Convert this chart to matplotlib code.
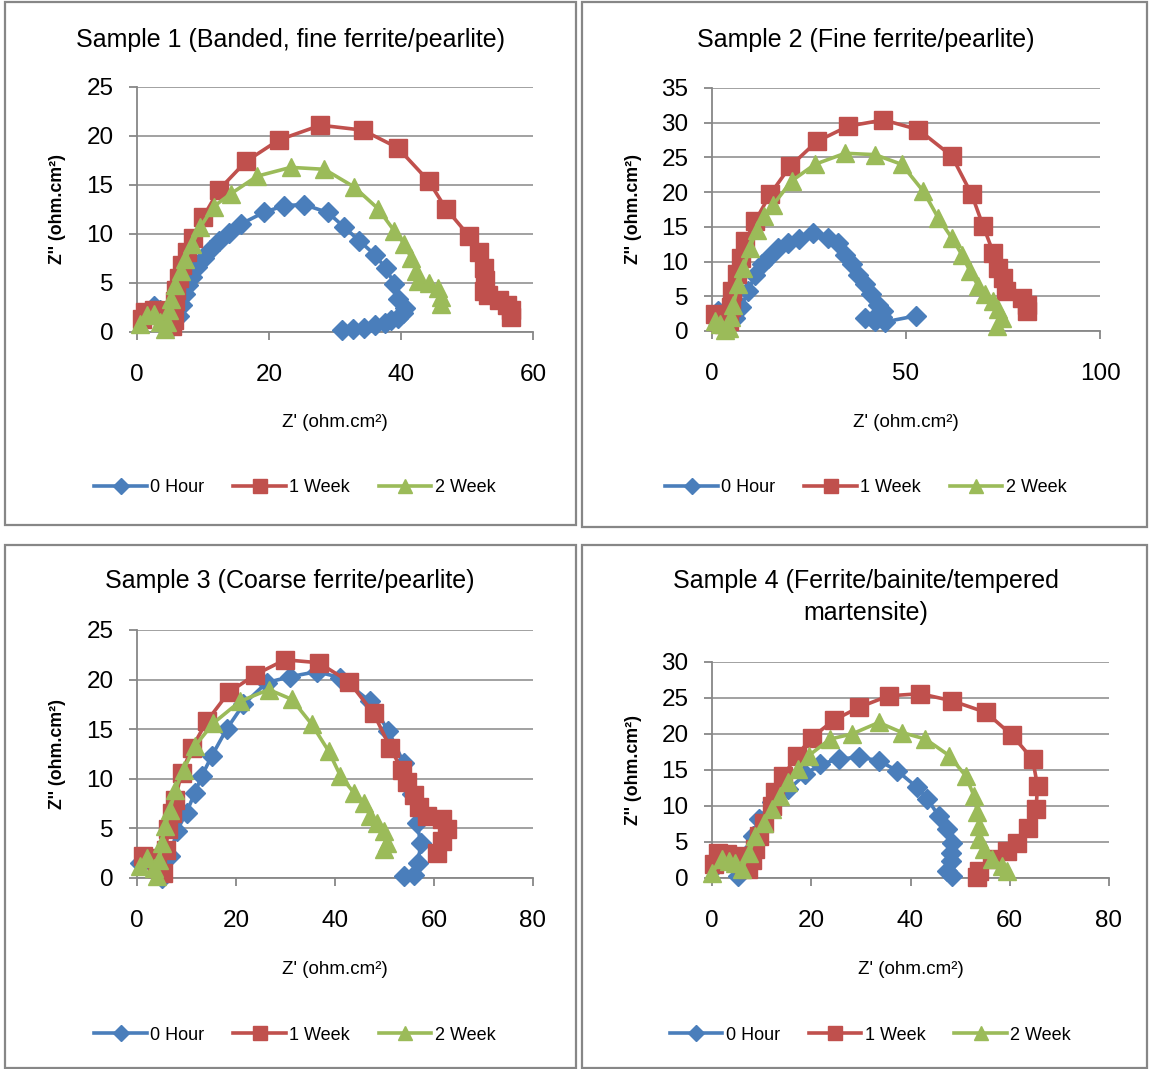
import matplotlib
matplotlib.use("Agg")
import matplotlib.pyplot as plt
from matplotlib.patches import Rectangle

W, H = 1149, 1069

# ---- data ----
legend_labels = ["0 Hour", "1 Week", "2 Week"]
titles = ["Sample 1 (Banded, fine ferrite/pearlite)",
          "Sample 2 (Fine ferrite/pearlite)",
          "Sample 3 (Coarse ferrite/pearlite)",
          "Sample 4 (Ferrite/bainite/tempered\nmartensite)"]

s1_hour0_x = [1.5, 2.5, 3.5, 4.5, 5.5, 6.3, 6.8, 7.3, 7.8, 8.4, 9.1, 10.1, 11.1, 12.4, 13.9, 15.7, 19.2, 22.3,
              25.3, 28.9, 31.4, 33.7, 36.0, 37.7, 39.0, 39.5, 40.6, 40.3, 39.5, 38.5, 37.5, 36.0, 34.4, 32.7, 31.1]
s1_hour0_y = [1.8, 2.7, 2.2, 1.2, 0.6, 1.6, 2.8, 3.9, 4.8, 5.6, 6.6, 7.6, 8.4, 9.3, 10.1, 11.0, 12.2, 12.9,
              13.0, 12.2, 10.7, 9.3, 7.9, 6.5, 4.9, 3.4, 2.4, 1.9, 1.4, 1.2, 0.9, 0.7, 0.4, 0.3, 0.2]
s1_week1_x = [0.8, 1.2, 2.5, 4.0, 5.3, 5.6, 5.5, 5.7, 5.9, 6.3, 6.8, 7.5, 8.5, 10.0, 12.4, 16.5, 21.5, 27.8,
              34.2, 39.5, 44.2, 46.8, 50.3, 51.8, 52.6, 52.8, 52.6, 53.2, 54.8, 56.0, 56.6, 56.6]
s1_week1_y = [1.3, 2.0, 2.2, 1.5, 0.6, 1.2, 2.2, 3.2, 4.3, 5.5, 6.8, 8.2, 9.6, 11.7, 14.5, 17.4, 19.6, 21.1,
              20.6, 18.8, 15.4, 12.6, 9.8, 8.2, 6.5, 5.3, 4.2, 3.8, 3.3, 2.8, 2.2, 1.5]
s1_week2_x = [0.5, 1.5, 2.5, 3.5, 4.3, 4.6, 4.8, 5.1, 5.8, 6.6, 7.3, 8.4, 9.6, 11.6, 14.2, 18.2, 23.3, 28.4,
              32.9, 36.5, 39.0, 40.5, 41.5, 42.3, 42.6, 44.3, 45.6, 46.1, 46.1]
s1_week2_y = [0.8, 1.7, 1.8, 1.0, 0.3, 1.0, 2.2, 3.4, 4.8, 6.2, 7.4, 9.0, 10.7, 12.8, 14.1, 15.9, 16.8, 16.6,
              14.8, 12.6, 10.3, 9.0, 7.6, 6.2, 5.2, 5.0, 4.5, 3.6, 2.9]

s2_hour0_x = [1.6, 3.0, 4.5, 5.9, 7.5, 9.4, 11.1, 12.8, 14.5, 17.1, 19.7, 22.3, 26.1, 30.0, 32.6, 34.3, 36.0,
              37.7, 39.4, 41.1, 42.9, 44.2, 43.7, 41.5, 39.5, 42.0, 44.5, 52.7]
s2_hour0_y = [2.9, 2.4, 2.0, 1.9, 3.5, 5.8, 8.1, 9.6, 10.5, 12.0, 12.7, 13.2, 14.1, 13.4, 12.7, 11.0, 9.6,
              8.1, 6.7, 5.3, 3.8, 2.9, 2.0, 1.8, 1.9, 1.4, 1.3, 2.2]
s2_week1_x = [0.8, 1.5, 3.0, 4.5, 4.9, 5.1, 6.4, 7.6, 8.5, 11.1, 15.0, 20.1, 27.0, 35.1, 44.2, 53.2, 61.8,
              66.9, 69.9, 72.5, 73.8, 75.1, 75.9, 79.8, 81.1, 81.1]
s2_week1_y = [2.4, 1.5, 1.0, 1.5, 3.5, 5.8, 8.2, 10.5, 12.9, 15.8, 19.7, 23.7, 27.3, 29.5, 30.4, 29.0, 25.2,
              19.7, 15.1, 11.3, 9.1, 7.7, 5.8, 4.8, 3.8, 2.9]
s2_week2_x = [0.8, 2.0, 3.4, 4.5, 5.0, 5.5, 6.8, 8.1, 9.8, 11.5, 13.5, 15.8, 20.5, 26.5, 34.3, 42.0, 48.9,
              54.5, 58.3, 61.8, 64.4, 66.5, 68.6, 70.4, 72.5, 73.8, 74.7, 73.4]
s2_week2_y = [1.4, 1.0, 0.2, 0.5, 2.0, 3.8, 6.7, 9.1, 12.0, 14.6, 16.5, 18.2, 21.6, 24.0, 25.6, 25.4, 24.0,
              20.1, 16.3, 13.4, 11.0, 8.6, 6.5, 5.3, 4.3, 3.1, 1.9, 0.7]

s3_hour0_x = [0.6, 2.5, 4.0, 5.0, 6.7, 8.0, 10.0, 11.7, 13.1, 15.1, 18.1, 21.5, 26.2, 31.0, 36.3, 41.1, 47.1,
              50.8, 53.9, 55.5, 56.6, 57.3, 56.8, 55.9, 53.9]
s3_hour0_y = [1.5, 1.8, 1.0, 0.0, 2.2, 4.7, 6.6, 8.6, 10.3, 12.3, 15.0, 17.5, 19.7, 20.3, 20.8, 20.2, 17.8,
              14.8, 11.6, 8.5, 5.5, 3.5, 1.5, 0.3, 0.2]
s3_week1_x = [1.3, 2.5, 4.0, 5.3, 5.8, 6.3, 7.0, 7.7, 9.0, 11.1, 14.1, 18.5, 23.9, 29.9, 36.7, 42.8, 47.8,
              51.2, 53.5, 54.6, 55.9, 56.9, 58.6, 61.6, 62.6, 61.6, 60.6]
s3_week1_y = [2.2, 2.0, 1.0, 0.5, 2.8, 4.9, 6.6, 7.9, 10.6, 13.1, 15.8, 18.7, 20.5, 22.0, 21.7, 19.8, 16.6,
              13.1, 10.9, 9.7, 8.4, 7.2, 6.2, 5.9, 4.9, 3.7, 2.5]
s3_week2_x = [0.6, 2.0, 3.5, 4.0, 4.5, 5.0, 5.7, 6.7, 7.7, 9.4, 11.7, 15.4, 20.8, 26.6, 31.3, 35.3, 38.7,
              41.1, 43.8, 45.8, 47.1, 48.5, 49.8, 50.5, 49.8]
s3_week2_y = [1.2, 2.0, 1.0, 0.2, 1.8, 3.5, 5.2, 6.9, 8.9, 10.9, 13.3, 15.6, 17.8, 19.0, 18.0, 15.5, 12.8,
              10.3, 8.6, 7.6, 6.2, 5.5, 4.7, 3.5, 2.9]

s4_hour0_x = [1.3, 2.6, 4.0, 5.3, 6.3, 7.2, 8.2, 9.4, 12.1, 15.4, 18.8, 21.8, 25.5, 29.6, 33.6, 37.3, 41.3,
              43.4, 45.7, 47.4, 48.4, 48.1, 48.1, 47.4, 48.4]
s4_hour0_y = [2.0, 3.2, 2.4, 0.3, 1.5, 3.5, 5.8, 8.2, 10.5, 12.3, 14.4, 15.8, 16.5, 16.8, 16.3, 14.9, 12.6,
              11.0, 8.6, 6.8, 4.9, 3.5, 2.4, 1.0, 0.3]
s4_week1_x = [0.5, 1.3, 3.0, 5.3, 6.5, 7.3, 8.0, 8.7, 9.4, 10.4, 12.1, 12.7, 14.4, 17.1, 20.1, 24.5, 29.6,
              35.6, 42.0, 48.4, 55.2, 60.5, 64.6, 65.6, 65.3, 63.6, 61.5, 59.5, 56.5, 53.8, 53.5]
s4_week1_y = [2.0, 3.5, 3.4, 3.1, 1.8, 1.2, 2.5, 4.0, 5.8, 7.7, 10.0, 11.9, 14.2, 17.0, 19.5, 21.9, 23.7,
              25.3, 25.6, 24.6, 23.0, 19.8, 16.5, 12.8, 9.6, 7.0, 4.9, 3.8, 2.6, 1.0, 0.1]
s4_week2_x = [0.0, 2.0, 3.5, 4.6, 6.0, 7.5, 8.7, 10.4, 12.0, 13.7, 15.4, 17.4, 19.5, 23.8, 28.2, 33.6, 38.3,
              43.0, 47.8, 51.1, 52.8, 53.5, 53.8, 53.8, 54.8, 56.5, 58.5, 59.5]
s4_week2_y = [0.7, 2.6, 2.4, 2.1, 1.2, 3.5, 5.8, 7.7, 9.6, 11.4, 13.3, 15.1, 17.0, 19.3, 20.0, 21.6, 20.2,
              19.3, 17.0, 14.2, 11.4, 9.1, 7.2, 5.4, 4.0, 2.6, 1.7, 1.0]

# axis limits / ticks per panel
x_max = [60, 100, 80, 80]
x_step = [20, 50, 20, 20]
y_max = [25, 35, 25, 30]
y_step = [5, 5, 5, 5]

series = [
    [(s1_hour0_x, s1_hour0_y), (s1_week1_x, s1_week1_y), (s1_week2_x, s1_week2_y)],
    [(s2_hour0_x, s2_hour0_y), (s2_week1_x, s2_week1_y), (s2_week2_x, s2_week2_y)],
    [(s3_hour0_x, s3_hour0_y), (s3_week1_x, s3_week1_y), (s3_week2_x, s3_week2_y)],
    [(s4_hour0_x, s4_hour0_y), (s4_week1_x, s4_week1_y), (s4_week2_x, s4_week2_y)],
]

# ---- styling ----
colors = ["#4A7EBB", "#C0504D", "#9BBB59"]
markers = ["D", "s", "^"]
msizes = [10.5, 12.5, 13]
GRAY = "#878787"
FONT = ["Liberation Sans", "DejaVu Sans"]

# pixel boxes: (left, top, right, bottom) of plot area; panel frame
axes_px = [(137, 87, 533, 332), (712, 88, 1100, 331), (137, 630, 533, 878), (712, 662, 1109, 878)]
frames_px = [(5, 2, 576, 525), (582, 2, 1147, 527), (5, 545, 576, 1068), (582, 545, 1147, 1068)]
title_px = [(290, 40), (866, 40), (290, 581), (866, 597)]
xlabel_y = [423, 423, 969, 969]
legend_y = [488, 488, 1035, 1035]


def fx(x):
    return x / W


def fy(y):
    return 1 - y / H


fig = plt.figure(figsize=(W / 100, H / 100), dpi=100)

for i in range(4):
    l, t, r, b = frames_px[i]
    fig.patches.append(Rectangle((fx(l), fy(b)), fx(r - l), (b - t) / H, transform=fig.transFigure,
                                 fill=False, edgecolor=GRAY, linewidth=1.6))

    l, t, r, b = axes_px[i]
    ax = fig.add_axes([fx(l), fy(b), fx(r - l), (b - t) / H])
    handles = []
    for k, (xs, ys) in enumerate(series[i]):
        h, = ax.plot(xs, ys, color=colors[k], marker=markers[k], markersize=msizes[k],
                     linewidth=2.6, label=legend_labels[k], clip_on=False, zorder=3 + k)
        handles.append(h)

    ax.set_xlim(0, x_max[i])
    ax.set_ylim(0, y_max[i])
    ax.set_xticks(range(0, x_max[i] + 1, x_step[i]))
    ax.set_yticks(range(0, y_max[i] + 1, y_step[i]))
    for s in ["top", "right"]:
        ax.spines[s].set_visible(False)
    for s in ["left", "bottom"]:
        ax.spines[s].set_color(GRAY)
        ax.spines[s].set_linewidth(1.3)
    ax.grid(axis="y", color=GRAY, linewidth=1.1)
    ax.set_axisbelow(True)
    ax.tick_params(axis="both", direction="out", length=6, width=1.3, color=GRAY, labelsize=17.5)
    ax.tick_params(axis="x", pad=17)
    ax.tick_params(axis="y", pad=11)
    for lab in ax.get_xticklabels() + ax.get_yticklabels():
        lab.set_family(FONT)

    cx = (l + r) / 2
    fig.text(fx(title_px[i][0]), fy(title_px[i][1]), titles[i], ha="center", va="center",
             fontsize=18, family=FONT, linespacing=1.4)
    fig.text(fx(cx), fy(xlabel_y[i]), "Z' (ohm.cm²)", ha="center", va="center",
             fontsize=13.5, family=FONT)
    fig.text(fx(l - 79), fy((t + b) / 2), "Z'' (ohm.cm²)", ha="center", va="center",
             rotation=90, fontsize=12.8, fontweight="bold", family=FONT)

    fig.legend(handles=handles, loc="center", bbox_to_anchor=(fx(cx - 40), fy(legend_y[i])),
               ncol=3, frameon=False, prop={"family": FONT, "size": 13},
               handlelength=2.9, handletextpad=0.2, columnspacing=1.6, markerscale=0.75)

fig.savefig("out.png", dpi=100)
